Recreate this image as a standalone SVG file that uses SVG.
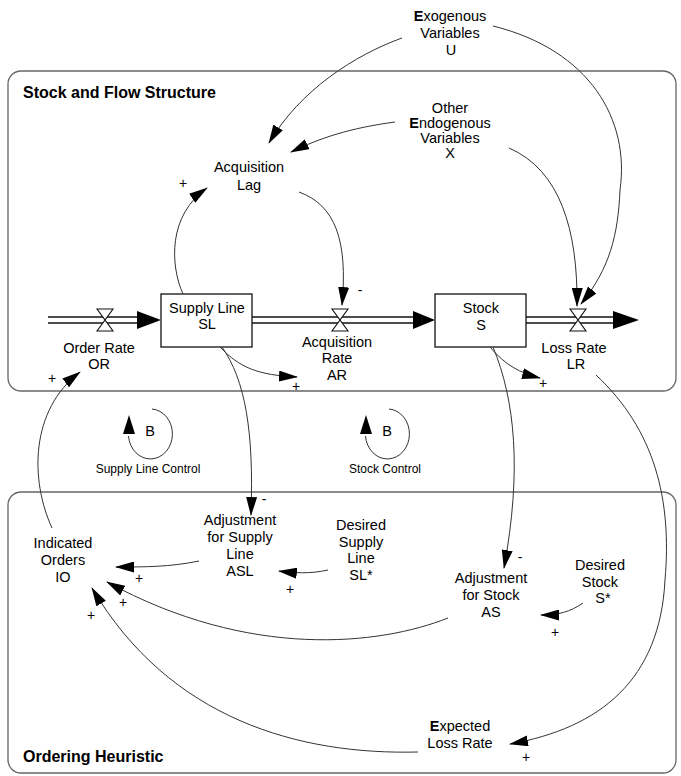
<svg xmlns="http://www.w3.org/2000/svg" width="681" height="776" viewBox="0 0 681 776">
<style>
.t{font-family:"Liberation Sans",Arial,sans-serif;font-size:14.5px;fill:#000;text-anchor:middle}
.s{font-family:"Liberation Sans",Arial,sans-serif;font-size:12px;fill:#000;text-anchor:middle}
.p{font-family:"Liberation Sans",Arial,sans-serif;font-size:14px;fill:#000;text-anchor:middle}
.h{font-family:"Liberation Sans",Arial,sans-serif;font-size:16px;font-weight:bold;fill:#000}
.frame{fill:none;stroke:#666;stroke-width:1.3}
.box{fill:#fff;stroke:#111;stroke-width:1.3}
.pipe{stroke:#111;stroke-width:1.3;fill:none}
.valve{fill:#fff;stroke:#111;stroke-width:1.1}
.head{fill:#000}
.c{fill:none;stroke:#333;stroke-width:1;marker-end:url(#ah)}
.loop{fill:none;stroke:#333;stroke-width:1}
</style>
<defs>
<marker id="ah" markerWidth="19" markerHeight="11" refX="18" refY="5.5" orient="auto" markerUnits="userSpaceOnUse"><path d="M0,0 L19,5.5 L0,11 z" fill="#000"/></marker>
</defs>

<g id="frames">
<rect class="frame" x="8" y="71" width="668" height="320" rx="13"/>
<text class="h" x="23" y="98">Stock and Flow Structure</text>
<rect class="frame" x="8" y="492" width="668" height="281" rx="13"/>
<text class="h" x="23" y="762">Ordering Heuristic</text>
</g>

<g id="pipes">
<line class="pipe" x1="48" y1="317" x2="140" y2="317"/><line class="pipe" x1="48" y1="323" x2="140" y2="323"/>
<polygon class="head" points="137,311 161,320 137,329"/>
<line class="pipe" x1="252" y1="317" x2="416" y2="317"/><line class="pipe" x1="252" y1="323" x2="416" y2="323"/>
<polygon class="head" points="413,311 435,320 413,329"/>
<line class="pipe" x1="526" y1="317" x2="616" y2="317"/><line class="pipe" x1="526" y1="323" x2="616" y2="323"/>
<polygon class="head" points="613,311 639,320 613,329"/>
</g>

<g id="supply-line"><rect class="box" x="161" y="294" width="91" height="53"/>
<text class="t" x="207" y="313">Supply Line</text><text class="t" x="207" y="329">SL</text></g>
<g id="stock"><rect class="box" x="435" y="294" width="91" height="53"/>
<text class="t" x="481" y="313">Stock</text><text class="t" x="481" y="330">S</text></g>

<g id="order-rate"><path class="valve" d="M97,309 L113,309 L97,331 L113,331 Z"/>
<text class="t" x="99" y="353">Order Rate</text><text class="t" x="99" y="369">OR</text></g>
<g id="acquisition-rate"><path class="valve" d="M332,309 L348,309 L332,331 L348,331 Z"/>
<text class="t" x="337" y="347">Acquisition</text><text class="t" x="337" y="363">Rate</text><text class="t" x="337" y="380">AR</text></g>
<g id="loss-rate"><path class="valve" d="M570,309 L586,309 L570,331 L586,331 Z"/>
<text class="t" x="574" y="353">Loss Rate</text><text class="t" x="576" y="369">LR</text></g>

<g id="exogenous"><text class="t" x="450" y="21"><tspan font-weight="bold">E</tspan>xogenous</text><text class="t" x="450" y="38">Variables</text><text class="t" x="451" y="55">U</text></g>
<g id="other-endogenous"><text class="t" x="450" y="113">Other</text><text class="t" x="450" y="128"><tspan font-weight="bold">E</tspan>ndogenous</text><text class="t" x="450" y="143">Variables</text><text class="t" x="450" y="158">X</text></g>
<g id="acquisition-lag"><text class="t" x="249" y="172">Acquisition</text><text class="t" x="249" y="190">Lag</text></g>
<g id="indicated-orders"><text class="t" x="63" y="548">Indicated</text><text class="t" x="63" y="565">Orders</text><text class="t" x="63" y="582">IO</text></g>
<g id="adjustment-supply-line"><text class="t" x="240" y="525">Adjustment</text><text class="t" x="240" y="542">for Supply</text><text class="t" x="240" y="559">Line</text><text class="t" x="240" y="576">ASL</text></g>
<g id="desired-supply-line"><text class="t" x="361" y="530">Desired</text><text class="t" x="361" y="547">Supply</text><text class="t" x="361" y="563">Line</text><text class="t" x="361" y="580">SL*</text></g>
<g id="adjustment-stock"><text class="t" x="491" y="583">Adjustment</text><text class="t" x="491" y="600">for Stock</text><text class="t" x="491" y="617">AS</text></g>
<g id="desired-stock"><text class="t" x="600" y="570">Desired</text><text class="t" x="600" y="587">Stock</text><text class="t" x="603" y="603">S*</text></g>
<g id="expected-loss-rate"><text class="t" x="460" y="731"><tspan font-weight="bold">E</tspan>xpected</text><text class="t" x="460" y="748">Loss Rate</text></g>

<g id="loop-supply-line-control">
<path class="loop" d="M152,409 A22,25 0 1 1 128.5,436"/>
<polygon class="head" points="129,415 123,434 135,434"/>
<text class="t" x="150" y="436">B</text>
<text class="s" x="148" y="473">Supply Line Control</text>
</g>
<g id="loop-stock-control">
<path class="loop" d="M389,409 A22,25 0 1 1 365.5,436"/>
<polygon class="head" points="366,415 360,434 372,434"/>
<text class="t" x="387" y="436">B</text>
<text class="s" x="385" y="473">Stock Control</text>
</g>

<g id="connectors">
<path class="c" d="M402,38 C355,55 300,90 269,143"/>
<path class="c" d="M493,26 C590,50 630,120 620,190 C618,235 610,268 581,304"/>
<path class="c" d="M395,122 C350,128 320,138 291,152"/>
<path class="c" d="M509,148 C560,170 578,230 577,306"/>
<path class="c" d="M299,192 C335,205 348,240 342,305"/>
<path class="c" d="M183,294 C170,265 168,215 207,188"/>
<path class="c" d="M52,528 C30,480 30,410 80,372"/>
<path class="c" d="M222,347 C245,380 254,430 251,515"/>
<path class="c" d="M220,347 C240,368 258,375 297,377"/>
<path class="c" d="M490,347 C505,365 520,373 540,378"/>
<path class="c" d="M493,347 C515,400 522,470 504,568"/>
<path class="c" d="M596,375 C655,430 672,500 665,580 C660,680 600,728 510,744"/>
<path class="c" d="M418,752 C300,755 170,720 92,588"/>
<path class="c" d="M448,618 C380,645 250,660 107,582"/>
<path class="c" d="M199,561 C170,567 145,567 116,567"/>
<path class="c" d="M328,570 C310,574 295,573 279,571"/>
<path class="c" d="M583,603 C570,612 558,615 541,615"/>
</g>

<g id="polarities">
<text class="p" x="183" y="188">+</text>
<text class="p" x="52" y="383">+</text>
<text class="p" x="296" y="391">+</text>
<text class="p" x="543" y="388">+</text>
<text class="p" x="139" y="583">+</text>
<text class="p" x="290" y="594">+</text>
<text class="p" x="123" y="607">+</text>
<text class="p" x="91" y="620">+</text>
<text class="p" x="555" y="637">+</text>
<text class="p" x="526" y="762">+</text>
<text class="p" x="360" y="295">-</text>
<text class="p" x="264" y="504">-</text>
<text class="p" x="520" y="562">-</text>
</g>
</svg>
